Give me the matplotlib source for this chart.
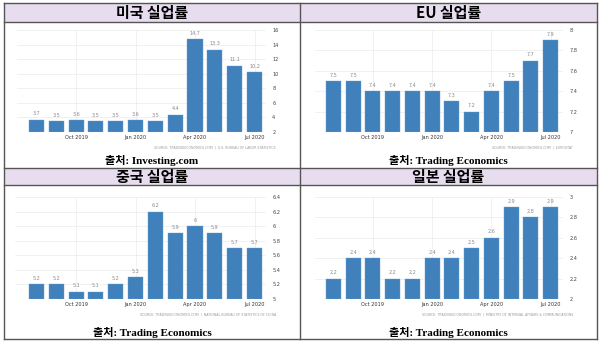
import numpy as np
import matplotlib
matplotlib.use("Agg")
import matplotlib.pyplot as plt
from matplotlib.patches import Rectangle
from matplotlib.lines import Line2D

W, H = 600, 341

months = ["Aug 2019", "Sep 2019", "Oct 2019", "Nov 2019", "Dec 2019", "Jan 2020",
          "Feb 2020", "Mar 2020", "Apr 2020", "May 2020", "Jun 2020", "Jul 2020"]
shown_months = ["Oct 2019", "Jan 2020", "Apr 2020", "Jul 2020"]

titles = ["미국 실업률", "EU 실업률", "중국 실업률", "일본 실업률"]
captions = ["출처: Investing.com", "출처: Trading Economics",
            "출처: Trading Economics", "출처: Trading Economics"]
sources = ["SOURCE: TRADINGECONOMICS.COM  |  U.S. BUREAU OF LABOR STATISTICS",
           "SOURCE: TRADINGECONOMICS.COM  |  EUROSTAT",
           "SOURCE: TRADINGECONOMICS.COM  |  NATIONAL BUREAU OF STATISTICS OF CHINA",
           "SOURCE: TRADINGECONOMICS.COM  |  MINISTRY OF INTERNAL AFFAIRS & COMMUNICATIONS"]

us_rate = [3.7, 3.5, 3.6, 3.5, 3.5, 3.6, 3.5, 4.4, 14.7, 13.3, 11.1, 10.2]
eu_rate = [7.5, 7.5, 7.4, 7.4, 7.4, 7.4, 7.3, 7.2, 7.4, 7.5, 7.7, 7.9]
cn_rate = [5.2, 5.2, 5.1, 5.1, 5.2, 5.3, 6.2, 5.9, 6.0, 5.9, 5.7, 5.7]
jp_rate = [2.2, 2.4, 2.4, 2.2, 2.2, 2.4, 2.4, 2.5, 2.6, 2.9, 2.8, 2.9]

us_ticks = [2, 4, 6, 8, 10, 12, 14, 16]
eu_ticks = [7, 7.2, 7.4, 7.6, 7.8, 8]
cn_ticks = [5, 5.2, 5.4, 5.6, 5.8, 6, 6.2, 6.4]
jp_ticks = [2, 2.2, 2.4, 2.6, 2.8, 3]

series = [us_rate, eu_rate, cn_rate, jp_rate]
yticks = [us_ticks, eu_ticks, cn_ticks, jp_ticks]

BAR = "#4080bb"
TITLE_BG = "#e8ddef"
LINE = "#555555"


def fbox(x0, y0, x1, y1):
    return [x0 / W, 1 - y1 / H, (x1 - x0) / W, (y1 - y0) / H]


fig = plt.figure(figsize=(6, 3.41), dpi=100)
fig.patch.set_facecolor("white")

# table layout (pixels)
cols = [(4, 300), (300, 597)]
rows = [(3, 22, 168), (168, 185, 339)]  # title top, title bottom, cell bottom

for (t0, t1, b) in rows:
    for (c0, c1) in cols:
        fig.add_artist(Rectangle((c0 / W, 1 - t1 / H), (c1 - c0) / W, (t1 - t0) / H,
                                 transform=fig.transFigure, facecolor=TITLE_BG,
                                 edgecolor="none", zorder=0))

# border lines
def hline(y, x0=4, x1=597):
    fig.add_artist(Line2D([x0 / W, x1 / W], [1 - y / H, 1 - y / H],
                          transform=fig.transFigure, color=LINE, lw=1.0, zorder=5))

def vline(x, y0=3, y1=339):
    fig.add_artist(Line2D([x / W, x / W], [1 - y0 / H, 1 - y1 / H],
                          transform=fig.transFigure, color=LINE, lw=1.0, zorder=5))

for y in [3, 22, 168, 185, 339]:
    hline(y)
for x in [4, 300, 597]:
    vline(x)

# chart placement: (axes left, axes right, y top, y bottom)
boxes = [(17, 266, 30, 132), (315, 563, 30, 132),
         (15, 266, 197, 299), (315, 563, 197, 299)]
xlims = [(-0.98, 11.58), (-0.93, 11.63), (-1.08, 11.58), (-0.93, 11.63)]

for i in range(4):
    r, c = divmod(i, 2)
    x0, x1, ytop, ybot = boxes[i]
    ax = fig.add_axes(fbox(x0, ytop, x1, ybot))
    vals = series[i]
    tk = yticks[i]
    ymin, ymax = tk[0], tk[-1]
    x = np.arange(len(vals))
    ax.bar(x, [v - ymin for v in vals], bottom=ymin, width=0.76, color=BAR,
           edgecolor="#6a9fd0", linewidth=0.3, zorder=3)
    for xi, v in zip(x, vals):
        ax.annotate("{:g}".format(v), (xi, v), xytext=(0, 2.5), textcoords="offset points",
                    ha="center", va="bottom", fontsize=3.5, color="#8a8a8a")
    ax.set_xlim(*xlims[i])
    ax.set_ylim(ymin, ymax)
    ax.set_yticks(tk)
    ax.set_yticklabels(["{:g}".format(round(t, 1)) for t in tk])
    ax.yaxis.tick_right()
    ax.set_xticks([months.index(m) for m in shown_months])
    ax.set_xticklabels(shown_months)
    ax.tick_params(axis="y", length=0, pad=4.5, labelsize=3.6, labelcolor="#444444")
    ax.tick_params(axis="x", length=0, pad=2.0, labelsize=3.6, labelcolor="#333333")
    for s in ax.spines.values():
        s.set_visible(False)
    ax.grid(True, color="#ececec", lw=0.5, zorder=0)
    ax.set_axisbelow(True)

    # cell texts
    c0, c1 = cols[c]
    t0, t1, b = rows[r]
    cx = (c0 + c1) / 2
    fig.text(cx / W, 1 - ((t0 + t1) / 2 + 0.5) / H, titles[i], ha="center", va="center",
             fontsize=10.8, fontweight="bold", family=["Noto Sans CJK KR", "DejaVu Sans"])
    src_right = x1 + 10
    src_y = ybot + 15
    fig.text(src_right / W, 1 - src_y / H, sources[i], ha="right", va="center",
             fontsize=2.3, color="#9a9a9a")
    fig.text(cx / W, 1 - (b - 7) / H, captions[i], ha="center", va="center",
             fontsize=8, fontweight="bold",
             family=["Liberation Serif", "Noto Sans CJK KR"])

fig.savefig("out.png", dpi=100)
